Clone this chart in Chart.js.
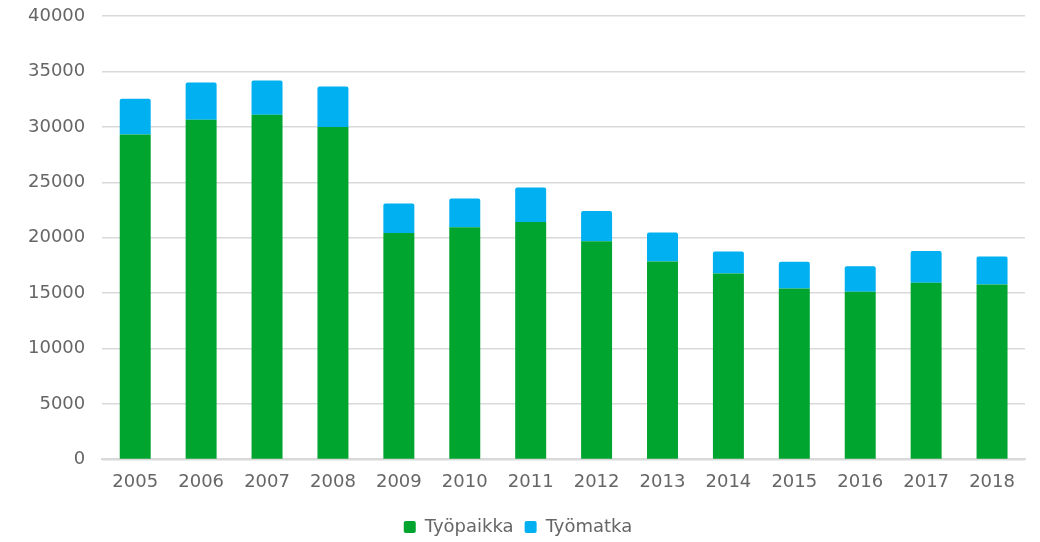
<!DOCTYPE html>
<html>
<head>
<meta charset="utf-8">
<script src="https://cdn.jsdelivr.net/npm/chart.js@4/dist/chart.umd.min.js"></script>
<style>
  html, body { margin: 0; padding: 0; background: #fff; }
  #wrap { width: 1040px; height: 542px; }
</style>
</head>
<body>
<div id="wrap"><canvas id="myChart"></canvas></div>
<script>
  var years = ['2005','2006','2007','2008','2009','2010','2011','2012','2013','2014','2015','2016','2017','2018']
  var tyopaikka = [29320, 30650, 31100, 29980, 20430, 20950, 21420, 19680, 17850, 16770, 15420, 15120, 15930, 15780]
  var tyomatka = [3220, 3350, 3090, 3670, 2650, 2580, 3100, 2730, 2620, 1990, 2400, 2310, 2880, 2530]

  Chart.defaults.font.family = "'DejaVu Sans', sans-serif"
  Chart.defaults.font.size = 18
  Chart.defaults.color = '#666666'

  var ctx = document.getElementById('myChart')
  var myChart = new Chart(ctx, {
    type: 'bar',
    data: {
      labels: years,
      datasets: [
        {
          label: 'Työpaikka',
          data: tyopaikka,
          backgroundColor: '#00A530',
          borderRadius: 2,
          barPercentage: 0.47,
          categoryPercentage: 1
        },
        {
          label: 'Työmatka',
          data: tyomatka,
          backgroundColor: '#00B0F0',
          borderRadius: 2,
          barPercentage: 0.47,
          categoryPercentage: 1
        }
      ]
    },
    options: {
      responsive: true,
      maintainAspectRatio: false,
      animation: false,
      layout: { padding: { top: 16, right: 15, left: 11, bottom: -4 } },
      scales: {
        x: {
          stacked: true,
          grid: { display: false, drawTicks: false },
          border: { color: '#d9d9d9', width: 2 },
          ticks: { padding: 12 },
          afterFit: function (s) { s.height += 2 }
        },
        y: {
          stacked: true,
          min: 0,
          max: 40000,
          ticks: {
            stepSize: 5000,
            padding: 17,
            callback: function (v) { return String(v) }
          },
          grid: { color: '#d9d9d9', lineWidth: 1.5, drawTicks: false },
          border: { display: false },
          afterFit: function (s) { s.paddingTop = 0 }
        }
      },
      plugins: {
        tooltip: { enabled: false },
        legend: {
          position: 'bottom',
          labels: {
            boxWidth: 12,
            boxHeight: 12,
            useBorderRadius: true,
            borderRadius: 2,
            padding: 11,
            font: { size: 18 }
          }
        }
      }
    }
  })
</script>
</body>
</html>
